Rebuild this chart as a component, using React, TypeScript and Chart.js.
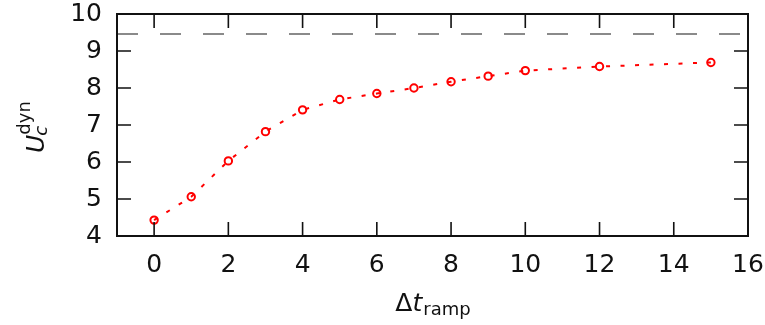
import React, { useEffect, useRef } from "react";
import { Chart, registerables } from "chart.js";

Chart.register(...registerables);

const tramp = [0, 1, 2, 3, 4, 5, 6, 7, 8, 9, 10, 12, 15];
const ucDyn = [4.43, 5.06, 6.03, 6.82, 7.41, 7.69, 7.85, 8.0, 8.17, 8.32, 8.47, 8.58, 8.69];
const ucReference = 9.46;
const xRange = [-1, 16];
const yRange = [4, 10];
const xTicks = [0, 2, 4, 6, 8, 10, 12, 14, 16];
const yTicks = [4, 5, 6, 7, 8, 9, 10];

const FONT = "'DejaVu Sans', sans-serif";
const INK = "#111";

const framePlugin = {
  id: "frame",
  afterDatasetsDraw(chart: any) {
    const { ctx, chartArea: a, scales } = chart;
    const tl = 14;
    ctx.save();
    ctx.strokeStyle = INK;
    ctx.lineWidth = 1.6;
    ctx.beginPath();
    for (const v of xTicks) {
      const px = scales.x.getPixelForValue(v);
      ctx.moveTo(px, a.bottom);
      ctx.lineTo(px, a.bottom - tl);
      ctx.moveTo(px, a.top);
      ctx.lineTo(px, a.top + tl);
    }
    for (const v of yTicks) {
      const py = scales.y.getPixelForValue(v);
      ctx.moveTo(a.left, py);
      ctx.lineTo(a.left + tl, py);
      ctx.moveTo(a.right, py);
      ctx.lineTo(a.right - tl, py);
    }
    ctx.stroke();
    ctx.lineWidth = 2;
    ctx.strokeRect(a.left, a.top, a.right - a.left, a.bottom - a.top);

    // axis titles
    ctx.fillStyle = INK;
    ctx.textBaseline = "alphabetic";
    // x title: Δt_ramp
    const cx = (a.left + a.right) / 2;
    const baseY = 311;
    ctx.font = `25px ${FONT}`;
    const wD = ctx.measureText("Δ").width;
    ctx.font = `italic 25px ${FONT}`;
    const wt = ctx.measureText("t").width;
    ctx.font = `18px ${FONT}`;
    const wr = ctx.measureText("ramp").width;
    const x0 = cx - (wD + wt + wr) / 2;
    ctx.font = `25px ${FONT}`;
    ctx.fillText("Δ", x0, baseY);
    ctx.font = `italic 25px ${FONT}`;
    ctx.fillText("t", x0 + wD, baseY);
    ctx.font = `18px ${FONT}`;
    ctx.fillText("ramp", x0 + wD + wt + 1, baseY + 4);

    // y title: U_c^dyn rotated
    ctx.save();
    ctx.translate(44, 153);
    ctx.rotate(-Math.PI / 2);
    ctx.font = `italic 25px ${FONT}`;
    ctx.fillText("U", 0, 0);
    const wU = ctx.measureText("U").width;
    ctx.font = `italic 18px ${FONT}`;
    ctx.fillText("c", wU - 1, 3);
    ctx.font = `18px ${FONT}`;
    ctx.fillText("dyn", wU, -14);
    ctx.restore();
    ctx.restore();
  },
};

export default function App() {
  const ref = useRef<HTMLCanvasElement | null>(null);
  useEffect(() => {
    document.body.style.margin = "0";
    const canvas = ref.current!;
    const chart = new Chart(canvas, {
      type: "line",
      data: {
        datasets: [
          {
            data: [
              { x: xRange[0], y: ucReference },
              { x: xRange[1], y: ucReference },
            ],
            borderColor: "#8a8a8a",
            borderWidth: 1.8,
            borderDash: [21, 22],
            pointRadius: 0,
            fill: false,
          },
          {
            data: tramp.map((t, i) => ({ x: t, y: ucDyn[i] })),
            borderColor: "#ff0000",
            borderWidth: 2,
            borderDash: [4, 10.5],
            pointRadius: 3.7,
            pointBorderWidth: 2,
            pointBorderColor: "#ff0000",
            pointBackgroundColor: "rgba(255,255,255,0)",
            pointStyle: "circle",
            fill: false,
            tension: 0,
          },
        ],
      },
      options: {
        animation: false,
        responsive: false,
        devicePixelRatio: 1,
        layout: { padding: { top: 14, right: 17, left: 0, bottom: 0 } },
        plugins: { legend: { display: false }, tooltip: { enabled: false } },
        scales: {
          x: {
            type: "linear",
            min: xRange[0],
            max: xRange[1],
            afterBuildTicks: (s: any) => {
              s.ticks = xTicks.map((v) => ({ value: v }));
            },
            afterFit: (s: any) => {
              s.height = 89;
              s.paddingLeft = 0;
              s.paddingRight = 0;
            },
            grid: { display: false, drawTicks: false },
            border: { display: false },
            ticks: {
              font: { family: FONT, size: 25 },
              color: INK,
              padding: 14,
              maxRotation: 0,
              autoSkip: false,
            },
          },
          y: {
            type: "linear",
            min: yRange[0],
            max: yRange[1],
            afterBuildTicks: (s: any) => {
              s.ticks = yTicks.map((v) => ({ value: v }));
            },
            afterFit: (s: any) => {
              s.width = 117;
              s.paddingTop = 0;
              s.paddingBottom = 0;
            },
            grid: { display: false, drawTicks: false },
            border: { display: false },
            ticks: {
              font: { family: FONT, size: 25 },
              color: INK,
              padding: 15,
              autoSkip: false,
            },
          },
        },
      },
      plugins: [framePlugin],
    } as any);
    return () => chart.destroy();
  }, []);
  return <canvas ref={ref} width={765} height={325} style={{ display: "block" }} />;
}
